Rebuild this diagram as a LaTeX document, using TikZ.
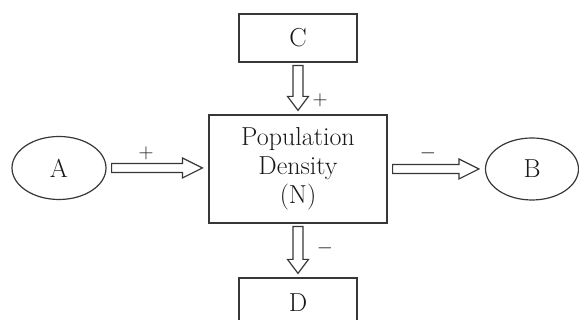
\documentclass[tikz,border=0pt]{standalone}
\usepackage{fontspec}
\usetikzlibrary{calc,shapes.geometric}
\definecolor{trait}{RGB}{55,55,55}

\begin{document}
\begin{tikzpicture}[x=1pt,y=1pt,
  boite/.style={draw=trait, line width=1.2pt, rectangle, inner sep=0pt, align=center, text=black!90, font=\fontsize{26}{29}\selectfont},
  bulle/.style={draw=trait, line width=1.2pt, ellipse, inner sep=0pt, text=black!90, font=\fontsize{26}{29}\selectfont},
  signe/.style={inner sep=0pt, text=black!90, font=\fontsize{21}{21}\selectfont},
  fleche/.style={draw=trait, line width=1.2pt},
  harrow/.style={to path={let \p1=(\tikztostart), \p2=(\tikztotarget) in
    (\x1+5pt,\y1+4.5pt) -- (\x2-26pt,\y1+4.5pt) -- (\x2-26pt,\y1+10pt) -- (\x2-6pt,\y1)
    -- (\x2-26pt,\y1-10pt) -- (\x2-26pt,\y1-4.5pt) -- (\x1+5pt,\y1-4.5pt) -- cycle}},
  varrow/.style={to path={let \p1=(\tikztostart), \p2=(\tikztotarget) in
    (\x1-5pt,\y1-3pt) -- (\x1-5pt,\y2+18pt) -- (\x1-10.5pt,\y2+18pt) -- (\x1,\y2+4pt)
    -- (\x1+10.5pt,\y2+18pt) -- (\x1+5pt,\y2+18pt) -- (\x1+5pt,\y1-3pt) -- cycle}}]
\useasboundingbox (0,0) rectangle (579,320);
\clip (0,0) rectangle (579,320);
% boxes and bubbles
\node [boite, minimum width=178, minimum height=108] (N) at (298,151) {Population\\Density\\(N)};
\node [boite, minimum width=118, minimum height=48] (C) at (298,282) {C};
\node [boite, minimum width=118, minimum height=50] (D) at (298,17) {D};
\node [bulle, minimum width=94, minimum height=63] (A) at (59,152) {A};
\node [bulle, minimum width=93, minimum height=62] (B) at (532,151) {B};
% hollow arrows
\draw [fleche] (A.east) to[harrow] (N.west);
\draw [fleche] (N.east) to[harrow] (B.west);
\draw [fleche] (C.south) to[varrow] (N.north);
\draw [fleche] (N.south) to[varrow] (D.north);
% signs
\node [signe] (sA) at (146,167) {$+$};
\node [signe] (sB) at (428,167) {$-$};
\node [signe] (sC) at (320,220) {$+$};
\node [signe] (sD) at (325,72) {$-$};
\end{tikzpicture}
\end{document}
